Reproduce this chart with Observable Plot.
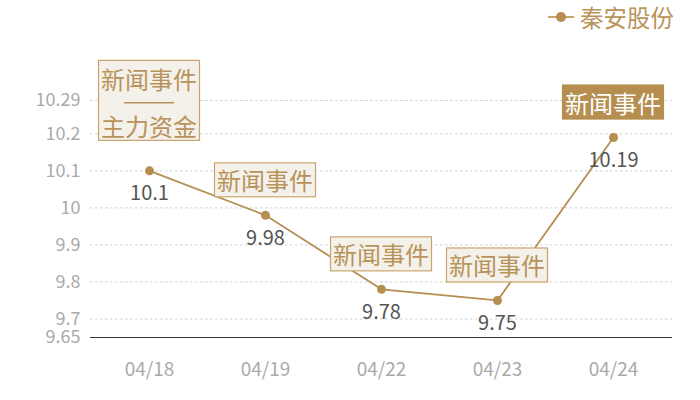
<!DOCTYPE html>
<html><head><meta charset="utf-8">
<script src="https://cdn.jsdelivr.net/npm/d3@7"></script>
<script src="https://cdn.jsdelivr.net/npm/@observablehq/plot@0.6"></script>
<style>
body{margin:0;background:#fff;}
#wrap{position:relative;width:700px;height:400px;font-family:"Noto Sans CJK SC","Noto Sans",sans-serif;}
#legend{position:absolute;left:548px;top:2px;display:flex;align-items:center;gap:6px;color:#b8935a;font-size:23.5px;line-height:30px;}
#legend svg{display:block;}
g[aria-label^="x-axis"] text{font-size:19px;}
g[aria-label^="y-axis"] text{font-size:18px;}
</style></head><body>
<div id="wrap"><div id="legend"><svg width="26" height="12"><line x1="0" x2="26" y1="6" y2="6" stroke="#c9a56e" stroke-width="2"/><circle cx="13" cy="6" r="5" fill="#b58e50"/></svg><span id="legendText"></span></div></div>
<script>
const seriesName = "秦安股份";
const dates = ["04/18", "04/19", "04/22", "04/23", "04/24"];
const prices = [10.1, 9.98, 9.78, 9.75, 10.19];
const yTicks = [9.65, 9.7, 9.8, 9.9, 10, 10.1, 10.2, 10.29];
const annoDates = ["04/18", "04/19", "04/22", "04/23", "04/24"];
const annoTexts = [["新闻事件", "主力资金"], ["新闻事件"], ["新闻事件"], ["新闻事件"], ["新闻事件"]];
const annoHighlight = [false, false, false, false, true];

document.getElementById("legendText").textContent = seriesName;

const data = dates.map((d, i) => ({date: d, price: prices[i]}));

function annotations(index, scales) {
  const g = d3.create("svg:g").attr("font-family", '"Noto Sans CJK SC","Noto Sans",sans-serif');
  annoDates.forEach((d, i) => {
    const px = scales.x(d);
    const py = scales.y(prices[dates.indexOf(d)]);
    const lines = annoTexts[i];
    const multi = lines.length > 1;
    const w = 101, h = multi ? 80 : 34, gap = multi ? 30 : 18;
    const top = py - gap - h;
    const hi = annoHighlight[i];
    g.append("rect")
      .attr("x", px - w / 2).attr("y", top).attr("width", w).attr("height", h)
      .attr("fill", hi ? "#b58e50" : "#f4f0ea")
      .attr("stroke", hi ? "#b58e50" : "#c9a56e").attr("stroke-width", 1.2);
    const color = hi ? "#ffffff" : "#b8935a";
    const fs = 24;
    if (multi) {
      g.append("text").attr("x", px).attr("y", top + 18).attr("text-anchor", "middle")
        .attr("dominant-baseline", "central").attr("font-size", fs).attr("fill", color).text(lines[0]);
      g.append("line").attr("x1", px - 25).attr("x2", px + 25).attr("y1", top + 42.5).attr("y2", top + 42.5)
        .attr("stroke", color).attr("stroke-width", 1.5);
      g.append("text").attr("x", px).attr("y", top + 65).attr("text-anchor", "middle")
        .attr("dominant-baseline", "central").attr("font-size", fs).attr("fill", color).text(lines[1]);
    } else {
      g.append("text").attr("x", px).attr("y", top + h / 2).attr("text-anchor", "middle")
        .attr("dominant-baseline", "central").attr("font-size", fs).attr("fill", color).text(lines[0]);
    }
  });
  return g.node();
}

const chart = Plot.plot({
  width: 700,
  height: 400,
  marginLeft: 90,
  marginRight: 28,
  marginTop: 100,
  marginBottom: 63,
  style: {color: "#aaa", fontSize: "18px", fontFamily: '"Noto Sans CJK SC","Noto Sans",sans-serif', background: "transparent"},
  x: {type: "point", domain: dates, padding: 0.5, tickSize: 0, tickPadding: 25, label: null},
  y: {domain: [9.65, 10.29], ticks: yTicks, tickSize: 0, tickPadding: 10, tickFormat: d => String(d), label: null},
  marks: [
    Plot.ruleY(yTicks.slice(1), {stroke: "#d0d0d0", strokeOpacity: 1, strokeDasharray: "2.5,2.5"}),
    Plot.ruleY([9.65], {stroke: "#333", strokeWidth: 1.2}),
    Plot.line(data, {x: "date", y: "price", stroke: "#b58e50", strokeWidth: 1.8}),
    Plot.dot(data, {x: "date", y: "price", r: 4.5, fill: "#b58e50", stroke: "none"}),
    Plot.text(data, {x: "date", y: "price", text: d => String(d.price), dy: 23, fill: "#555", fontSize: 20}),
    annotations
  ]
});
document.getElementById("wrap").appendChild(chart);
</script>
</body></html>
